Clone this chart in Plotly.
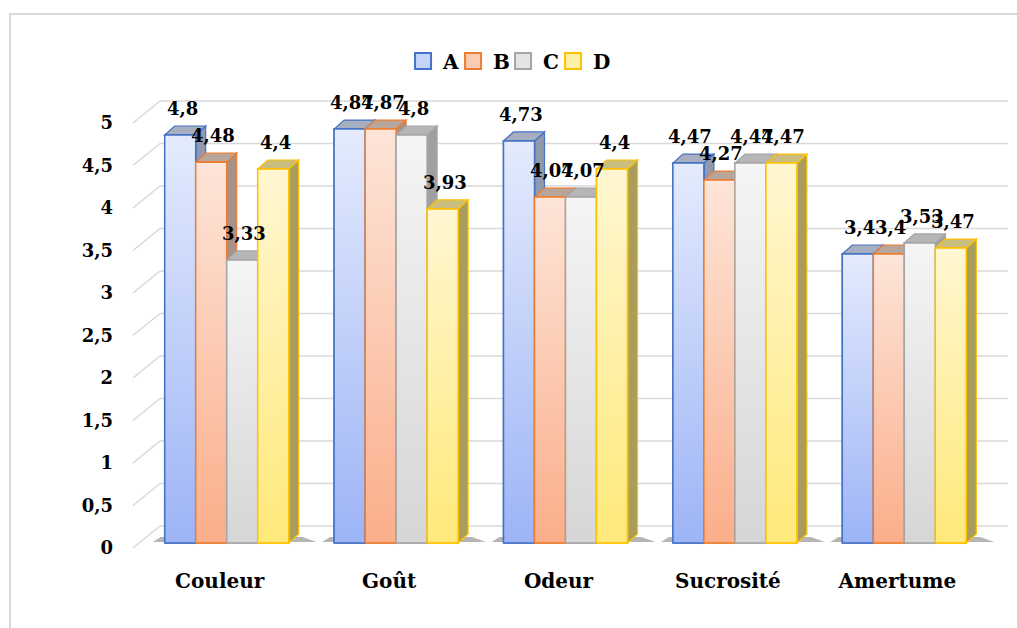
import plotly.graph_objects as go

# ---------------- data ----------------
categories = ["Couleur", "Goût", "Odeur", "Sucrosité", "Amertume"]
series_names = ["A", "B", "C", "D"]
values_A = [4.8, 4.87, 4.73, 4.47, 3.4]
values_B = [4.48, 4.87, 4.07, 4.27, 3.4]
values_C = [3.33, 4.8, 4.07, 4.47, 3.53]
values_D = [4.4, 3.93, 4.4, 4.47, 3.47]
y_tick_values = [0, 0.5, 1, 1.5, 2, 2.5, 3, 3.5, 4, 4.5, 5]
y_tick_labels = ["0", "0,5", "1", "1,5", "2", "2,5", "3", "3,5", "4", "4,5", "5"]

series_values = [values_A, values_B, values_C, values_D]

# ---------------- styles ----------------
edge_colors = ["#4472C4", "#ED7D31", "#A5A5A5", "#FFC000"]
grad_top = ["#E4EBFD", "#FDE5D9", "#F5F5F5", "#FFF7D2"]
grad_bottom = ["#9DB4F6", "#FBAE8A", "#D6D6D6", "#FFE97A"]
legend_fill = ["#C5D5FA", "#FCCBB3", "#E4E4E4", "#FFF0A8"]
legend_widths = [5, 5, 5, 22]
side_colors = ["#9199AC", "#A89287", "#A0A0A0", "#A99D5C"]
top_colors = ["#A7AEBF", "#B8A59B", "#B6B6B6", "#C9BE80"]
GRID = "#D9D9D9"
FONT = "DejaVu Serif"

W, H = 1017, 628
PXU_X, PXU_Y = 169.4, 85.0           # pixels per data unit
PAD_L, PAD_R, PAD_T, PAD_B = 10, 20, 19, 8
X_LO, X_HI = -0.5 - PAD_L / PXU_X, 4.5 + PAD_R / PXU_X
Y_LO, Y_HI = 0 - PAD_B / PXU_Y, 5 + PAD_T / PXU_Y
ML, MT = 132, 99
MR = W - ML - round((X_HI - X_LO) * PXU_X)
MB = H - MT - round((Y_HI - Y_LO) * PXU_Y)
PW, PH = W - ML - MR, H - MT - MB

def dx(px):
    return px / PXU_X

def dy(px):
    return px / PXU_Y

DEPTH_X, DEPTH_Y = 10, 9          # bar depth in pixels
WALL_X, WALL_Y = 18, 17           # back wall offset in pixels

BARGAP = 0.268
n_series = len(series_names)
bar_w = (1 - BARGAP) / n_series

fig = go.Figure()
shapes = []

# back wall grid lines (with the diagonal from the front edge)
for v in y_tick_values:
    shapes.append(dict(type="line", xref="x", yref="y", layer="below",
                       x0=-0.5 + dx(WALL_X), x1=4.5 + dx(WALL_X + 1),
                       y0=v + dy(WALL_Y), y1=v + dy(WALL_Y),
                       line=dict(color=GRID, width=1.6)))
    shapes.append(dict(type="line", xref="x", yref="y", layer="below",
                       x0=-0.5 - dx(9), x1=-0.5 + dx(WALL_X),
                       y0=v - dy(5), y1=v + dy(WALL_Y),
                       line=dict(color=GRID, width=1.6)))

# floor shadow under each group
for c in range(len(categories)):
    gl = c - 2 * bar_w
    gr = c + 2 * bar_w
    path = (f"M {gl - dx(12)},{dy(1)} L {gr + dx(28)},{dy(1)} "
            f"L {gr + dx(14)},{dy(6)} L {gl - dx(4)},{dy(6)} Z")
    shapes.append(dict(type="path", xref="x", yref="y", layer="below", path=path,
                       fillcolor="rgba(70,70,70,0.4)", line=dict(width=0)))

geom = []
for i, vals in enumerate(series_values):
    for c, v in enumerate(vals):
        center = c + (i - (n_series - 1) / 2) * bar_w
        geom.append((i, c, v, center - bar_w / 2, center + bar_w / 2, center))

# side faces
for i, c, v, xl, xr, xc in geom:
    path = (f"M {xr},0 L {xr + dx(DEPTH_X)},{dy(DEPTH_Y)} "
            f"L {xr + dx(DEPTH_X)},{v + dy(DEPTH_Y)} L {xr},{v} Z")
    shapes.append(dict(type="path", xref="x", yref="y", layer="below", path=path,
                       fillcolor=side_colors[i],
                       line=dict(color=edge_colors[i], width=1.2)))
# top faces
for i, c, v, xl, xr, xc in geom:
    path = (f"M {xl},{v} L {xr},{v} L {xr + dx(DEPTH_X)},{v + dy(DEPTH_Y)} "
            f"L {xl + dx(DEPTH_X)},{v + dy(DEPTH_Y)} Z")
    shapes.append(dict(type="path", xref="x", yref="y", layer="below", path=path,
                       fillcolor=top_colors[i],
                       line=dict(color=edge_colors[i], width=1.2)))

# outer frame
def px_to_paper_x(px):
    return (px - ML) / PW

def px_to_paper_y(py):
    return (H - MB - py) / PH

shapes.append(dict(type="rect", xref="paper", yref="paper", layer="below",
                   x0=px_to_paper_x(10), x1=px_to_paper_x(1040),
                   y0=px_to_paper_y(650), y1=px_to_paper_y(14),
                   line=dict(color="#D9D9D9", width=2), fillcolor="rgba(0,0,0,0)"))

# base bars
for i, vals in enumerate(series_values):
    fig.add_trace(go.Bar(
        x=list(range(len(categories))), y=vals, name=series_names[i],
        marker=dict(color=grad_bottom[i], line=dict(color=edge_colors[i], width=1.5)),
        showlegend=False, hoverinfo="skip"))

# gradient front faces
for i, c, v, xl, xr, xc in geom:
    fig.add_trace(go.Scatter(
        x=[xl, xr, xr, xl, xl], y=[0, 0, v, v, 0], mode="lines", fill="toself",
        fillgradient=dict(type="vertical",
                          colorscale=[[0, grad_bottom[i]], [1, grad_top[i]]]),
        line=dict(color=edge_colors[i], width=1.5),
        showlegend=False, hoverinfo="skip"))

# legend proxies
for i, name in enumerate(series_names):
    fig.add_trace(go.Scatter(
        x=[None], y=[None], mode="markers", name=name,
        legendwidth=legend_widths[i],
        marker=dict(symbol="square", size=16, color=legend_fill[i],
                    line=dict(color=edge_colors[i], width=2))))

# data labels
annotations = []
for i, c, v, xl, xr, xc in geom:
    annotations.append(dict(
        x=xc, y=v, xref="x", yref="y", text=f"{v:g}".replace(".", ","),
        showarrow=False, xanchor="center", yanchor="bottom", xshift=2, yshift=14,
        font=dict(family=FONT, size=18, color="black", weight="bold")))

fig.update_layout(
    width=W, height=H,
    margin=dict(l=ML, r=MR, t=MT, b=MB, pad=0),
    paper_bgcolor="white", plot_bgcolor="white",
    barmode="group", bargap=BARGAP, bargroupgap=0,
    shapes=shapes, annotations=annotations,
    showlegend=True,
    legend=dict(orientation="h", xref="container", yref="container",
                x=0.503, xanchor="center", y=1 - 61 / H, yanchor="middle",
                itemsizing="trace", itemwidth=30,
                font=dict(family=FONT, size=20, color="black", weight="bold"),
                bgcolor="rgba(0,0,0,0)"),
    xaxis=dict(range=[X_LO, X_HI], tickmode="array",
               tickvals=list(range(len(categories))), ticktext=categories,
               showgrid=False, zeroline=False, showline=False, ticks="",
               ticklabelshift=-7, ticklabelstandoff=16,
               tickfont=dict(family=FONT, size=20, color="black", weight="bold")),
    yaxis=dict(range=[Y_LO, Y_HI], tickmode="array",
               tickvals=y_tick_values, ticktext=y_tick_labels,
               showgrid=False, zeroline=False, showline=False, ticks="",
               ticklabelshift=5, ticklabelstandoff=18,
               tickfont=dict(family=FONT, size=18, color="black", weight="bold")),
)

fig.write_html(
    "out.html",
    config={"displayModeBar": False},
    post_script="document.body.style.margin='0px';document.body.style.overflow='hidden';",
)
